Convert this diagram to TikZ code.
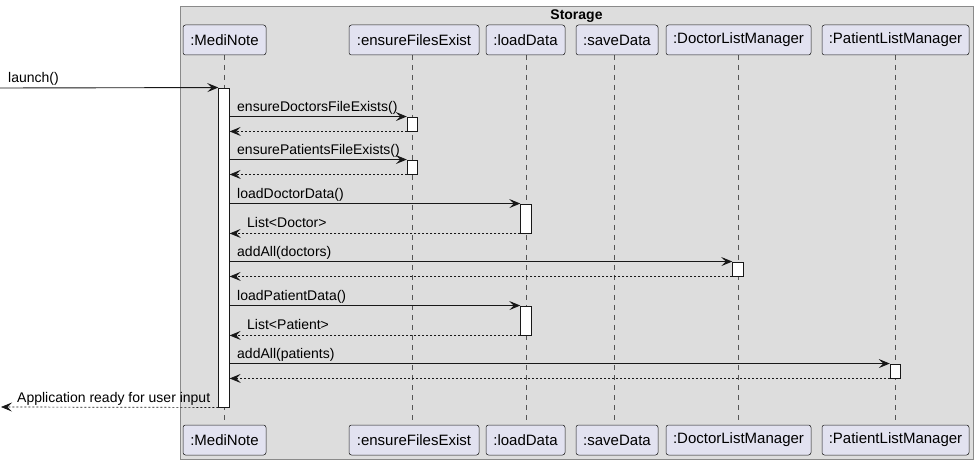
\documentclass[tikz,border=0pt]{standalone}
\usepackage{fontspec}
\setmainfont{Liberation Sans}
\usetikzlibrary{arrows.meta}
\definecolor{partfill}{HTML}{E2E2F0}
\definecolor{partdraw}{HTML}{181818}
\definecolor{boxfill}{HTML}{DDDDDD}
\definecolor{boxdraw}{HTML}{8A8A8A}
\definecolor{lifecol}{HTML}{555555}
\tikzset{
  part/.style={draw=partdraw, fill=partfill, rounded corners=2.5pt, line width=0.5pt,
    minimum height=30pt, inner sep=0pt, font=\fontsize{15}{17}\selectfont},
  life/.style={draw=lifecol, line width=0.5pt, dash pattern=on 5pt off 5pt},
  act/.style={draw=partdraw, fill=white, line width=0.9pt, minimum width=10.5pt, inner sep=0pt},
  msg/.style={draw=partdraw, line width=0.9pt, -{Stealth[length=11pt,width=9pt,inset=4.5pt]}},
  ret/.style={draw=partdraw, line width=0.7pt, dash pattern=on 2pt off 2pt, -{Stealth[length=11pt,width=9pt,inset=4.5pt]}},
  lbl/.style={font=\fontsize{14}{16}\selectfont, anchor=base west, inner sep=0pt},
}
\begin{document}
\begin{tikzpicture}[x=1pt,y=-1pt]
\useasboundingbox (0,0) rectangle (978,465);
% Storage box
\node[draw=boxdraw, fill=boxfill, line width=0.8pt, minimum width=793pt, minimum height=453pt, inner sep=0pt, anchor=north west] (storage) at (180,6) {};
\node[font=\bfseries\fontsize{14}{16}\selectfont, anchor=base] (stitle) at (576.5,20) {Storage};
% lifelines
\foreach \x in {224.5,412.5,526,614,738,895.5}{
  \draw[life] (\x,55) -- (\x,424);
}
% participants top
\node[part, minimum width=83pt] (p1) at (224.5,40) {:MediNote};
\node[part, minimum width=130pt] (p2) at (414,40) {:ensureFilesExist};
\node[part, minimum width=79pt] (p3) at (525.5,40) {:loadData};
\node[part, minimum width=82pt] (p4) at (617,40) {:saveData};
\node[part, minimum width=145pt] (p5) at (738.5,40) {:DoctorListManager};
\node[part, minimum width=147pt] (p6) at (895.5,40) {:PatientListManager};
% participants bottom
\node[part, minimum width=83pt] (q1) at (224.5,440) {:MediNote};
\node[part, minimum width=130pt] (q2) at (414,440) {:ensureFilesExist};
\node[part, minimum width=79pt] (q3) at (525.5,440) {:loadData};
\node[part, minimum width=82pt] (q4) at (617,440) {:saveData};
\node[part, minimum width=145pt] (q5) at (738.5,440) {:DoctorListManager};
\node[part, minimum width=147pt] (q6) at (895.5,440) {:PatientListManager};
% activations
\node[act, minimum height=319pt] (mbar) at (224,247.5) {};
\node[act, minimum height=14pt] (a1) at (412.5,124) {};
\node[act, minimum height=14pt] (a2) at (412.5,167) {};
\node[act, minimum height=29pt] (a3) at (526,218.5) {};
\node[act, minimum height=14pt] (a4) at (738,269) {};
\node[act, minimum height=29pt] (a5) at (526,320.5) {};
\node[act, minimum height=14pt] (a6) at (895.5,371) {};
% launch
\coordinate (src) at (0,88);
\draw[msg] (src) -- (mbar.north west);
\node[lbl] (l0) at (8,83) {launch()};
% messages
\draw[msg] (mbar.east |- a1.north) -- (a1.north west);
\node[lbl] (l1) at (237,112) {ensureDoctorsFileExists()};
\draw[ret] (a1.south west) -- (mbar.east |- a1.south);

\draw[msg] (mbar.east |- a2.north) -- (a2.north west);
\node[lbl] (l2) at (237,155) {ensurePatientsFileExists()};
\draw[ret] (a2.south west) -- (mbar.east |- a2.south);

\draw[msg] (mbar.east |- a3.north) -- (a3.north west);
\node[lbl] (l3) at (237,199) {loadDoctorData()};
\draw[ret] (a3.south west) -- (mbar.east |- a3.south);
\node[lbl] (l4) at (247,228) {List<Doctor>};

\draw[msg] (mbar.east |- a4.north) -- (a4.north west);
\node[lbl] (l5) at (237,257) {addAll(doctors)};
\draw[ret] (a4.south west) -- (mbar.east |- a4.south);

\draw[msg] (mbar.east |- a5.north) -- (a5.north west);
\node[lbl] (l6) at (237,301) {loadPatientData()};
\draw[ret] (a5.south west) -- (mbar.east |- a5.south);
\node[lbl] (l7) at (247,330) {List<Patient>};

\draw[msg] (mbar.east |- a6.north) -- (a6.north west);
\node[lbl] (l8) at (237,359) {addAll(patients)};
\draw[ret] (a6.south west) -- (mbar.east |- a6.south);

\coordinate (dst) at (1,407);
\draw[ret] (mbar.south west) -- (dst);
\node[lbl] (l9) at (17,402) {Application ready for user input};
\end{tikzpicture}
\end{document}
